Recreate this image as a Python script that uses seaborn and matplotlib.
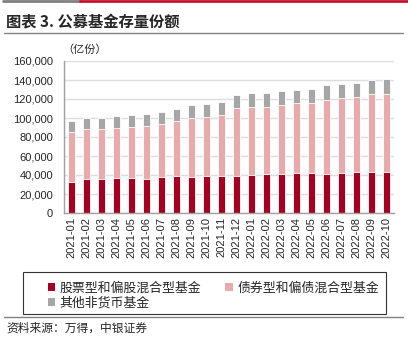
import numpy as np
import pandas as pd
import matplotlib
matplotlib.use("Agg")
import matplotlib.pyplot as plt
import seaborn as sns
from matplotlib.patches import Patch, Rectangle
from matplotlib.lines import Line2D

months = ["2021-01", "2021-02", "2021-03", "2021-04", "2021-05", "2021-06",
          "2021-07", "2021-08", "2021-09", "2021-10", "2021-11", "2021-12",
          "2022-01", "2022-02", "2022-03", "2022-04", "2022-05", "2022-06",
          "2022-07", "2022-08", "2022-09", "2022-10"]
# 亿份
equity = [32800, 35600, 36300, 36600, 36600, 36300, 37600, 39000, 38000, 38700, 39400, 39400,
          40400, 41100, 41500, 42200, 42200, 41500, 42500, 42800, 43500, 43500]
bond = [52300, 52600, 51900, 52700, 53700, 55800, 56500, 57600, 62000, 62400, 63400, 71000,
        71400, 70700, 72400, 73100, 73800, 77600, 78700, 79800, 81800, 82200]
other = [11800, 12200, 12200, 12500, 12500, 12100, 12500, 12400, 13600, 13800, 14200, 14200,
         14600, 14900, 14900, 14500, 14900, 15300, 14500, 14500, 14300, 15200]
series_names = ["股票型和偏股混合型基金", "债券型和偏债混合型基金", "其他非货币基金"]
yticks = [0, 20000, 40000, 60000, 80000, 100000, 120000, 140000, 160000]

c_red = "#A50021"
c_pink = "#E8AAAA"
c_gray = "#A6A6A6"

sns.set_theme(style="white")
plt.rcParams['font.family'] = ['Liberation Sans', 'Noto Sans CJK SC', 'DejaVu Sans']

W, H = 408, 347
fig = plt.figure(figsize=(W / 100, H / 100), dpi=100)

df = pd.DataFrame({"month": months, "equity": equity, "bond": bond, "other": other})
df["c1"] = df["equity"]
df["c2"] = df["c1"] + df["bond"]
df["c3"] = df["c2"] + df["other"]

ax = fig.add_axes([64 / W, 1 - 213 / H, 330 / W, 152 / H])
for col, color in [("c3", c_gray), ("c2", c_pink), ("c1", c_red)]:
    sns.barplot(data=df, x="month", y=col, color=color, width=0.5, ax=ax,
                edgecolor="white", linewidth=0.6, saturation=1)

ax.set_ylim(0, 160000)
ax.set_xlim(-0.5, len(months) - 0.5)
ax.set_yticks(yticks)
ax.set_yticklabels([f"{v:,}" for v in yticks], fontsize=8)
ax.set_xticks(range(len(months)))
ax.set_xticklabels(months, rotation=90, fontsize=8)
ax.tick_params(axis="both", length=0, pad=3)
ax.tick_params(axis="y", pad=8)
ax.set_xlabel("")
ax.set_ylabel("")
ax.yaxis.grid(True, color="#DDDDDD", linewidth=1)
ax.set_axisbelow(True)
for s in ["top", "right"]:
    ax.spines[s].set_visible(False)
for s in ["left", "bottom"]:
    ax.spines[s].set_color("#A0A0A0")
    ax.spines[s].set_linewidth(1)

fig.text(62 / W, 1 - 50 / H, "（亿份）", fontsize=8, ha="left", va="center",
         family=['Noto Sans CJK SC'])

# header lines
fig.add_artist(Line2D([3 / W, 80 / W], [1 - 1 / H, 1 - 1 / H], color="#808080", lw=2))
fig.add_artist(Line2D([80 / W, 1], [1 - 1 / H, 1 - 1 / H], color="#C8102E", lw=2))
fig.text(6 / W, 1 - 22 / H, "图表 3. 公募基金存量份额", fontsize=11, fontweight="bold",
         ha="left", va="center", family=['Noto Sans CJK SC', 'DejaVu Sans'])
fig.add_artist(Line2D([4 / W, 403 / W], [1 - 33 / H, 1 - 33 / H], color="#808080", lw=1))

# legend box
fig.add_artist(Rectangle((23 / W, 1 - 314 / H), 363 / W, 42 / H, transform=fig.transFigure,
                         facecolor="none", edgecolor="#333333", lw=0.8))
handles = [Patch(facecolor=c_red, edgecolor="none"),
           Patch(facecolor=c_gray, edgecolor="none"),
           Patch(facecolor=c_pink, edgecolor="none")]
labels = [series_names[0], series_names[2], series_names[1]]
leg = fig.legend(handles, labels, ncol=2, loc="upper left",
                 bbox_to_anchor=(38 / W, 1 - 272 / H),
                 prop={"family": "Noto Sans CJK SC", "size": 9.3},
                 frameon=False,
                 handlelength=0.6, handleheight=0.6, handletextpad=0.3,
                 columnspacing=1.9, borderpad=0.25, labelspacing=0.15)

fig.add_artist(Line2D([4 / W, 403 / W], [1 - 317 / H, 1 - 317 / H], color="#808080", lw=1))
fig.text(6 / W, 1 - 328 / H, "资料来源：万得，中银证券", fontsize=8.5, style="italic",
         ha="left", va="center", family=['Noto Sans CJK SC'])

fig.savefig("out.png", dpi=100)
